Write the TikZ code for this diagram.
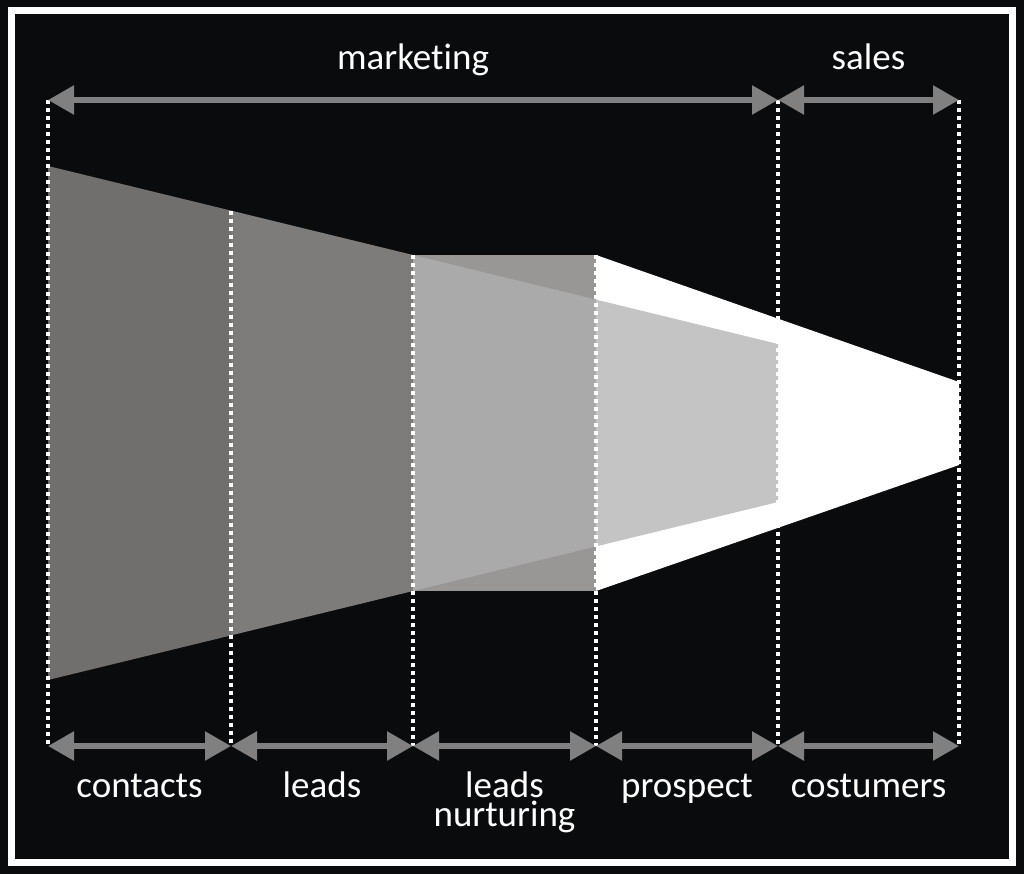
\documentclass[tikz,border=0pt]{standalone}
\usepackage{fontspec}
\setmainfont{Carlito}[Ligatures={NoCommon}]
\usetikzlibrary{arrows.meta}
\definecolor{bgblack}{HTML}{0A0B0D}
\definecolor{arrgray}{HTML}{808080}
\definecolor{segA}{HTML}{706F6D}
\definecolor{segB}{HTML}{7D7C7A}
\definecolor{rectC}{HTML}{989795}
\definecolor{segC}{HTML}{AAAAAA}
\definecolor{segD}{HTML}{C4C4C4}
\tikzset{
  arr/.style={draw=arrgray, line width=5.5pt,
    {Triangle[length=26pt,width=28pt]}-{Triangle[length=26pt,width=28pt]}},
  dotline/.style={draw=white, line width=4pt, dash pattern=on 4pt off 4pt},
  lbl/.style={text=white, font=\fontsize{37}{33}\selectfont, align=center, inner sep=0pt},
}
\begin{document}
\begin{tikzpicture}[x=1pt,y=-1pt]
\useasboundingbox (0,0) rectangle (1024,874);
\fill[bgblack] (0,0) rectangle (1024,874);
\draw[white, line width=7pt] (11,11) rectangle (1012,862);

% shapes
\fill[white] (596,255) -- (959,382) -- (959,465) -- (596,591) -- cycle;
\fill[segA] (48,166) -- (231,210.6) -- (231,635.4) -- (48,680) -- cycle;
\fill[segB] (231,210.6) -- (413,255) -- (413,591) -- (231,635.4) -- cycle;
\fill[rectC] (413,255) rectangle (596,591);
\fill[segC] (413,255) -- (596,299.6) -- (596,546.4) -- (413,591) -- cycle;
\fill[segD] (596,299.6) -- (778,344) -- (778,502) -- (596,546.4) -- cycle;

% coordinates
\coordinate (t1) at (48,100);
\coordinate (t5) at (778,100);
\coordinate (t6) at (959,100);
\coordinate (s2) at (231,210.6);
\coordinate (s3) at (413,255);
\coordinate (s4) at (596,255);
\coordinate (b1) at (48,746);
\coordinate (b2) at (231,746);
\coordinate (b3) at (413,746);
\coordinate (b4) at (596,746);
\coordinate (b5) at (778,746);
\coordinate (b6) at (959,746);

% dotted lines
\draw[dotline] (t1) -- (b1);
\draw[dotline] (s2) -- (b2);
\draw[dotline] (s3) -- (b3);
\draw[dotline] (s4) -- (b4);
\draw[dotline] (t5) -- (b5);
\draw[dotline] (t6) -- (b6);

% arrows
\draw[arr] (t1) -- (t5);
\draw[arr] (t5) -- (t6);
\draw[arr] (b1) -- (b2);
\draw[arr] (b2) -- (b3);
\draw[arr] (b3) -- (b4);
\draw[arr] (b4) -- (b5);
\draw[arr] (b5) -- (b6);

% labels
\node[lbl, anchor=base] (mk) at (413,70) {marketing};
\node[lbl, anchor=base] (sl) at (868.5,70) {sales};
\node[lbl, anchor=base] (ct) at (139.5,797) {contacts};
\node[lbl, anchor=base] (ld) at (322,797) {leads};
\node[lbl, anchor=base, text depth=0pt] (ln) at (504.5,797) {leads};
\node[lbl, anchor=base, text height=19pt] (nu) at (504.5,826) {nurturing};
\node[lbl, anchor=base] (pr) at (687,797) {prospect};
\node[lbl, anchor=base] (cu) at (868.5,797) {costumers};
\end{tikzpicture}
\end{document}
